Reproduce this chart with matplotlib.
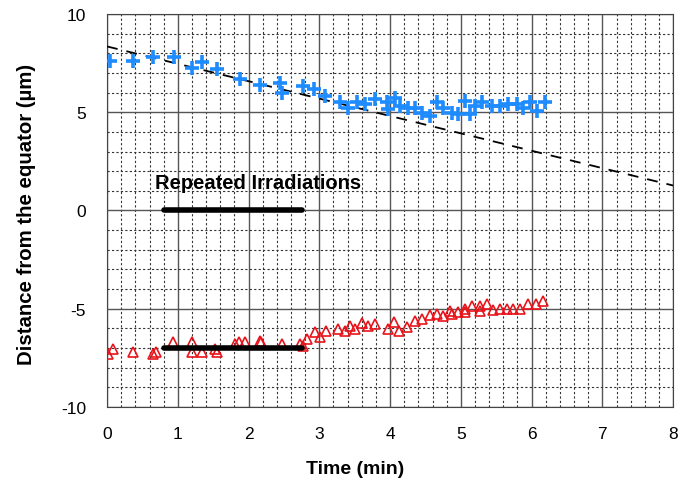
import numpy as np
import matplotlib.pyplot as plt
from matplotlib.ticker import MultipleLocator

plt.rcParams['font.family'] = ['Liberation Sans', 'DejaVu Sans']
plt.rcParams['axes.unicode_minus'] = False

# upper tracked position (blue crosses)
t_up = [0.04, 0.37, 0.65, 0.94, 1.20, 1.34, 1.55, 1.88, 2.16, 2.45, 2.47,
        2.77, 2.92, 3.08, 3.29, 3.40, 3.53, 3.65, 3.79, 3.96, 3.97, 4.07,
        4.14, 4.25, 4.35, 4.45, 4.57, 4.66, 4.75, 4.87, 4.96, 5.06, 5.13,
        5.20, 5.30, 5.44, 5.55, 5.67, 5.79, 5.88, 5.98, 6.08, 6.19]
d_up = [7.6, 7.6, 7.8, 7.8, 7.26, 7.55, 7.18, 6.67, 6.41, 6.5, 6.0,
        6.33, 6.16, 5.82, 5.5, 5.24, 5.5, 5.4, 5.65, 5.5, 5.14, 5.75,
        5.3, 5.24, 5.24, 4.98, 4.8, 5.5, 5.24, 4.98, 4.9, 5.55, 4.9,
        5.3, 5.5, 5.3, 5.3, 5.4, 5.4, 5.24, 5.5, 5.05, 5.5]

# lower tracked position (red triangles)
t_low = [0.02, 0.08, 0.37, 0.65, 0.69, 0.93, 1.20, 1.20, 1.34, 1.53, 1.55,
         1.81, 1.86, 1.95, 2.16, 2.18, 2.47, 2.73, 2.77, 2.82, 2.94, 3.01,
         3.10, 3.27, 3.36, 3.43, 3.50, 3.60, 3.69, 3.79, 3.97, 4.05, 4.12,
         4.24, 4.35, 4.45, 4.57, 4.66, 4.75, 4.85, 4.87, 4.96, 5.06, 5.06,
         5.16, 5.27, 5.27, 5.37, 5.46, 5.55, 5.65, 5.74, 5.84, 5.95, 6.06,
         6.16]
d_low = [-7.33, -7.07, -7.2, -7.33, -7.23, -6.7, -6.7, -7.2, -7.2, -7.07, -7.2,
         -6.78, -6.72, -6.72, -6.66, -6.72, -6.82, -6.78, -6.9, -6.56, -6.2, -6.46,
         -6.16, -6.05, -6.15, -5.9, -6.05, -5.75, -5.9, -5.8, -6.05, -5.7, -6.16,
         -5.95, -5.65, -5.55, -5.34, -5.29, -5.39, -5.14, -5.29, -5.19, -5.04, -5.19,
         -4.88, -4.88, -5.14, -4.78, -5.09, -5.04, -5.04, -5.04, -5.04, -4.78, -4.78,
         -4.63]

# linear trend of the upper position
trend_intercept = 8.35
trend_slope = -0.885

# irradiation period
irr_start, irr_end = 0.8, 2.75
irr_level_low = -7.02

fig = plt.figure(figsize=(6.82, 4.85), dpi=100)
ax = fig.add_axes([0.157, 0.159, 0.830, 0.810])

ax.set_xlim(0, 8)
ax.set_ylim(-10, 10)
ax.xaxis.set_major_locator(MultipleLocator(1))
ax.xaxis.set_minor_locator(MultipleLocator(0.2))
ax.yaxis.set_major_locator(MultipleLocator(5))
ax.yaxis.set_minor_locator(MultipleLocator(1))
ax.grid(which='minor', color='#333333', linestyle=(0, (2, 2)), linewidth=0.8)
ax.grid(which='major', color='#555555', linestyle='-', linewidth=1.0)
ax.set_axisbelow(True)

tx = np.array([0, 8])
ax.plot(tx, trend_intercept + trend_slope * tx, color='black',
        linestyle=(0, (6, 5)), linewidth=1.3, zorder=3)

ax.plot(t_up, d_up, linestyle='none', marker='+', markersize=10,
        markeredgewidth=2.6, color='#1e8cff', zorder=4)
ax.plot(t_low, d_low, linestyle='none', marker='^', markersize=7,
        markerfacecolor='none', markeredgecolor='#e8141b',
        markeredgewidth=1.2, zorder=4)

ax.plot([irr_start, irr_end], [0, 0], color='black', linewidth=4,
        solid_capstyle='round', zorder=5)
ax.plot([irr_start, irr_end], [irr_level_low, irr_level_low], color='black',
        linewidth=4, solid_capstyle='round', zorder=5)
ax.text(0.68, 1.4, 'Repeated Irradiations', fontsize=14.5, fontweight='bold',
        ha='left', va='center')

for s in ax.spines.values():
    s.set_color('#444444')
ax.tick_params(which='both', length=0, labelsize=12.5, pad=14)
ax.tick_params(axis='y', pad=15)
ax.set_xlabel('Time (min)', fontsize=14, fontweight='bold')
ax.set_ylabel('Distance from the equator (µm)', fontsize=14.7,
              fontweight='bold')
ax.xaxis.set_label_coords(0.438, -0.135)
ax.yaxis.set_label_coords(-0.126, 0.493)

fig.savefig('out.png', dpi=100)
